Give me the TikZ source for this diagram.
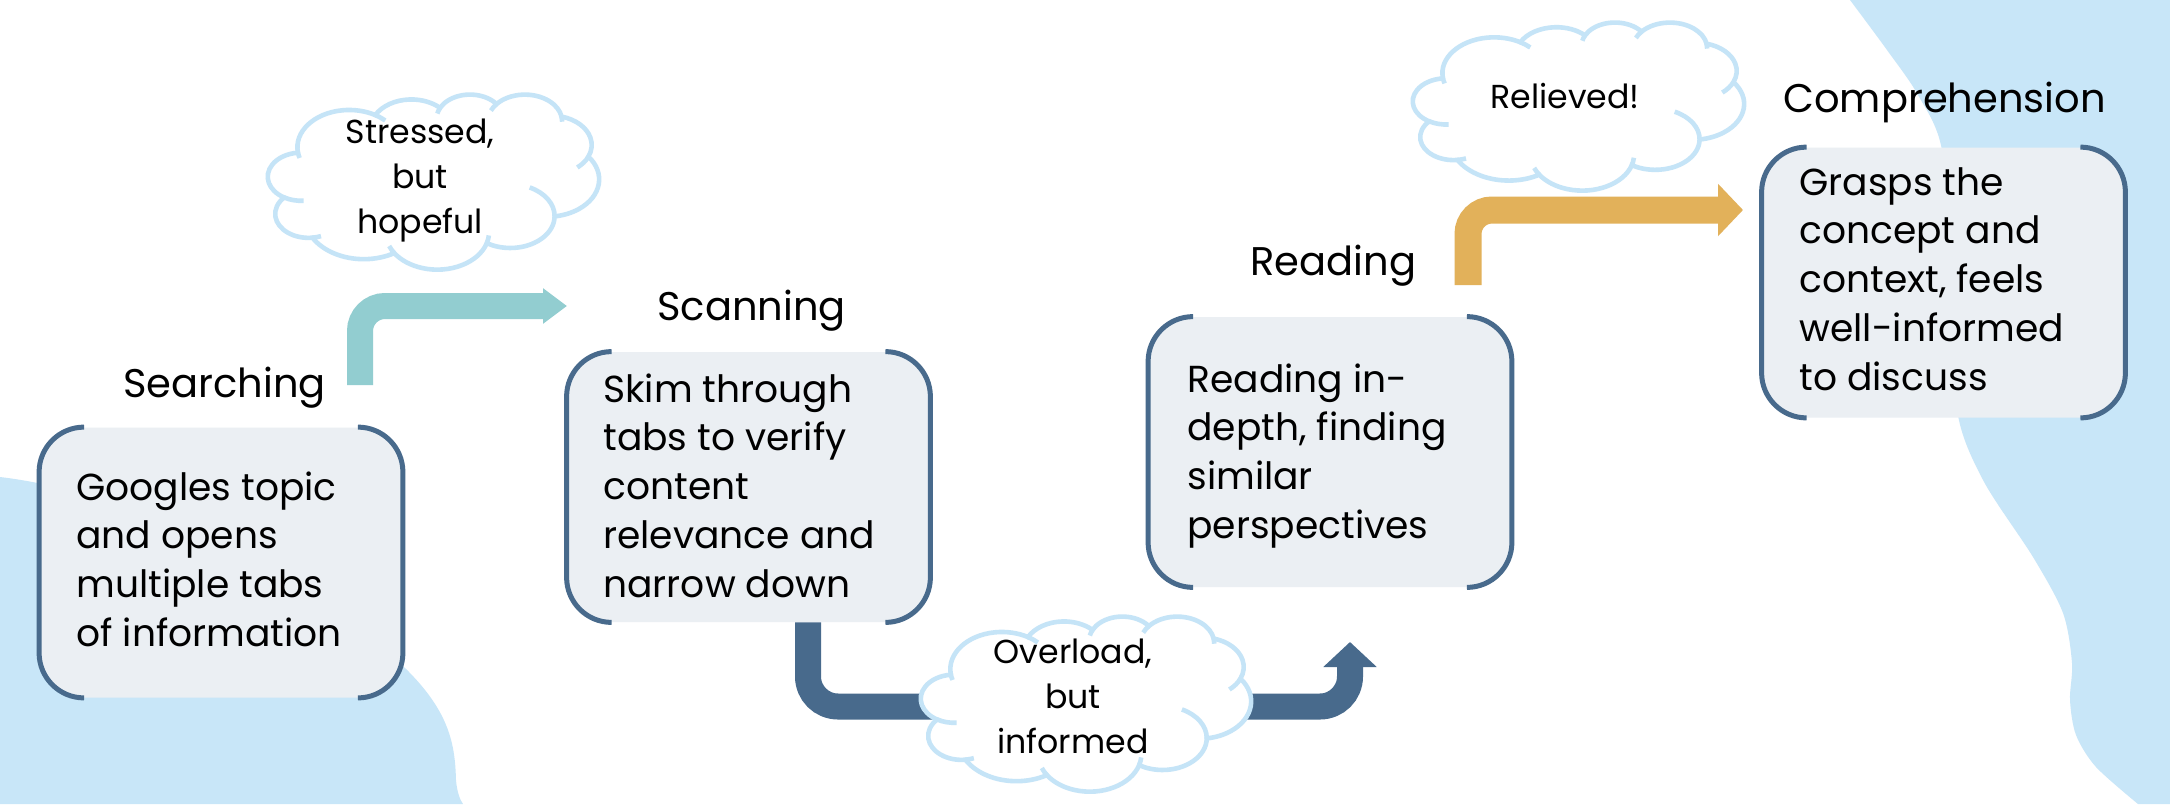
\documentclass[tikz,border=0pt]{standalone}
\usepackage{fontspec}
\setmainfont{Poppins}
\usetikzlibrary{arrows.meta}
\definecolor{blob}{HTML}{C8E6F8}
\definecolor{cloudc}{HTML}{C5E4F7}
\definecolor{boxfill}{HTML}{EBEFF3}
\definecolor{boxline}{HTML}{486A8C}
\definecolor{tealc}{HTML}{92CDD0}
\definecolor{goldc}{HTML}{E2B15A}
\tikzset{
  stepbox/.style={rectangle, rounded corners=22.5pt, fill=boxfill, draw=none,
    minimum width=181.5pt, minimum height=135pt, inner sep=0pt},
  bracketline/.style={draw=boxline, line width=2.5pt},
  cloudline/.style={draw=cloudc, line width=2.3pt},
  bodytext/.style={anchor=base west, inner sep=0pt, font=\fontsize{18.8}{24.4}\selectfont},
  titletext/.style={anchor=base west, inner sep=0pt, font=\fontsize{20}{24}\selectfont},
  cloudtext/.style={anchor=base, inner sep=0pt, font=\fontsize{16.6}{22.7}\selectfont},
  tealarr/.style={draw=tealc, line width=13pt, rounded corners=12.5pt,
    -{Triangle[length=12pt,width=17pt]}},
  darkarr/.style={draw=boxline, line width=13pt, rounded corners=15pt,
    -{Triangle[length=12.5pt,width=26pt]}},
  goldarr/.style={draw=goldc, line width=13.5pt, rounded corners=12pt,
    -{Triangle[length=12.5pt,width=25.5pt]}}
}
\newcommand\iarc[6]{\draw[cloudline] (#1,#2) ++(#5:#3 and #4) arc[start angle=#5, end angle=#6, x radius=#3, y radius=#4];}
\newcommand\pcloud[4]{%
\begin{scope}[shift={(#1,#2)}, xscale=#3/432, yscale=#4/432]
\filldraw[fill=white, cloudline]
 (39.00,143.70)
 arc[start angle=172.25, end angle=300.37, x radius=67.53, y radius=91.90]
 arc[start angle=-152.03, end angle=-45.43, x radius=53.33, y radius=72.67]
 arc[start angle=-153.49, end angle=-37.35, x radius=43.65, y radius=59.45]
 arc[start angle=-139.69, end angle=-10.21, x radius=48.57, y radius=65.95]
 arc[start angle=-74.77, end angle=23.21, x radius=53.33, y radius=72.73]
 arc[start angle=-37.55, end angle=81.86, x radius=67.75, y radius=92.20]
 arc[start angle=0.46, end angle=121.98, x radius=57.85, y radius=78.67]
 arc[start angle=16.84, end angle=146.24, x radius=67.52, y radius=92.15]
 arc[start angle=58.99, end angle=150.20, x radius=77.20, y radius=105.43]
 arc[start angle=83.31, end angle=223.12, x radius=43.60, y radius=59.18]
 arc[start angle=120.36, end angle=264.11, x radius=43.45, y radius=59.45]
 -- cycle;
\iarc{43.15}{204.17}{43.45}{59.45}{85.55}{120.36}
\iarc{53.00}{295.92}{43.60}{59.18}{68.23}{83.31}
\iarc{220.96}{341.46}{67.52}{92.15}{146.24}{158.47}
\iarc{220.96}{341.46}{67.52}{92.15}{4.74}{16.84}
\iarc{316.22}{301.43}{57.85}{78.67}{-64.03}{0.46}
\iarc{369.18}{125.95}{53.33}{72.73}{23.21}{49.64}
\iarc{335.39}{67.46}{48.57}{65.95}{-10.21}{0.82}
\iarc{335.39}{67.46}{48.57}{65.95}{-156.29}{-139.69}
\iarc{263.65}{60.87}{43.65}{59.45}{-167.72}{-153.49}
\iarc{105.91}{131.31}{67.53}{91.90}{-59.64}{-45.75}
\iarc{105.91}{131.31}{67.53}{91.90}{163.19}{172.25}
\end{scope}}
\newcommand\brackets[1]{%
\draw[bracketline] ([xshift=22.5pt]#1.north west) arc[start angle=90,end angle=180,radius=22.5pt]
  -- ([yshift=22.5pt]#1.south west) arc[start angle=180,end angle=270,radius=22.5pt];
\draw[bracketline] ([xshift=-22.5pt]#1.north east) arc[start angle=90,end angle=0,radius=22.5pt]
  -- ([yshift=22.5pt]#1.south east) arc[start angle=0,end angle=-90,radius=22.5pt];}
\begin{document}
\begin{tikzpicture}[x=0.5pt,y=-0.5pt]
\useasboundingbox (0,0) rectangle (2170,804);
\fill[white] (0,0) rectangle (2170,804);
% background blobs
\fill[blob] (0,477) .. controls (150,495) and (320,590) .. (405,668)
  .. controls (450,712) and (455,745) .. (456,780)
  .. controls (457,792) and (460,800) .. (463,804) -- (0,804) -- cycle;
\fill[blob] plot[smooth] coordinates {(1850,0) (1887,50) (1918,95) (1942,150) (1952,280) (1957,410) (1983,480) (2033,557) (2063,613) (2072,663) (2070,700) (2076,735) (2096,767) (2138,804)}
  -- (2170,804) -- (2170,0) -- cycle;
% boxes
\node[stepbox] (b1) at (221,562.5) {};
\node[stepbox] (b2) at (748.5,487) {};
\node[stepbox] (b3) at (1330,452) {};
\node[stepbox] (b4) at (1943.5,282.5) {};
% arrows
\coordinate (ta) at (360,385);
\coordinate (tb) at (567,306);
\draw[tealarr] (ta) |- (tb);
\coordinate (da) at ([xshift=29.75pt]b2.south);
\coordinate (dc) at (1350,706.5);
\coordinate (db) at (1350,642);
\draw[darkarr] (da) |- (dc) -- (db);
\coordinate (ga) at (1468,285);
\coordinate (gb) at (1743,210);
\draw[goldarr] (ga) |- (gb);
\brackets{b1}
\brackets{b2}
\brackets{b3}
\brackets{b4}
% clouds
\pcloud{268}{94}{331}{175}
\pcloud{921}{616}{330}{175}
\pcloud{1413}{22}{331}{168}
\node[cloudtext] (c1) at (420,143) {\begin{tabular}[t]{@{}c@{}}Stressed,\\but\\hopeful\end{tabular}};
\node[cloudtext] (c2) at (1073,663) {\begin{tabular}[t]{@{}c@{}}Overload,\\but\\informed\end{tabular}};
\node[cloudtext] (c3) at (1565,108) {Relieved!};
% titles
\node[titletext] (h1) at (123,397) {Searching};
\node[titletext] (h2) at (657,320) {Scanning};
\node[titletext] (h3) at (1250,275) {Reading};
\node[titletext] (h4) at (1783,112) {Comprehension};
% body texts
\node[bodytext] (t1) at (76,500) {\begin{tabular}[t]{@{}l@{}}Googles topic\\and opens\\multiple tabs\\of information\end{tabular}};
\node[bodytext] (t2) at (603,402) {\begin{tabular}[t]{@{}l@{}}Skim through\\tabs to verify\\content\\relevance and\\narrow down\end{tabular}};
\node[bodytext] (t3) at (1187,392) {\begin{tabular}[t]{@{}l@{}}Reading in-\\depth, finding\\similar\\perspectives\end{tabular}};
\node[bodytext] (t4) at (1799,195) {\begin{tabular}[t]{@{}l@{}}Grasps the\\concept and\\context, feels\\well-informed\\to discuss\end{tabular}};
\end{tikzpicture}
\end{document}
